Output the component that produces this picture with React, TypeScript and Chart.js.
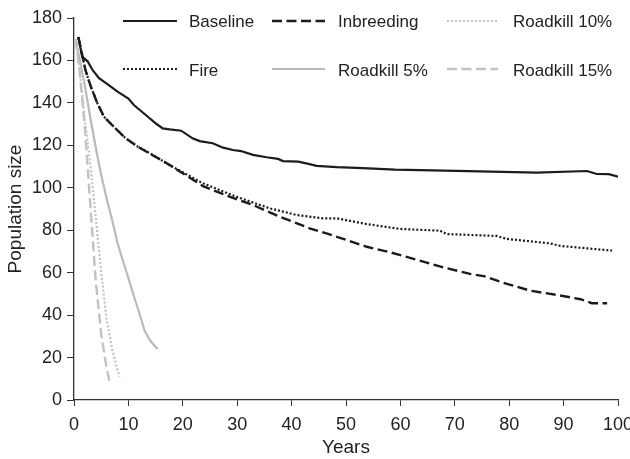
import React, { useEffect, useRef } from "react";
import { Chart, registerables } from "chart.js";

Chart.register(...registerables);

// ---- Data ----
const xTicks = [0, 10, 20, 30, 40, 50, 60, 70, 80, 90, 100];
const yTicks = [0, 20, 40, 60, 80, 100, 120, 140, 160, 180];

const baselineYears = [0.8, 1.5, 2.5, 3.4, 4.6, 6.4, 8, 10, 11, 13.2, 15, 16.3, 17.6, 19.7, 21.8, 23.1, 25.5, 27.4, 29.2, 30.7, 32.9, 35.4, 37.5, 38.4, 41.2, 42.7, 44.6, 48.3, 53.1, 59, 70.3, 85.1, 94.3, 96.1, 98.3, 100];
const baselineValues = [171, 161.8, 159.6, 155.5, 151.6, 148.4, 145.3, 142, 139, 134.3, 130.4, 128, 127.5, 126.9, 123.3, 122, 121, 118.9, 117.8, 117.3, 115.5, 114.4, 113.6, 112.6, 112.3, 111.5, 110.3, 109.7, 109.3, 108.6, 108, 107.1, 107.9, 106.5, 106.4, 105.2];

const inbreedingYears = [0.8, 2.1, 3.1, 4.3, 5.5, 7.4, 9.5, 11.7, 13.8, 16.6, 19, 23.7, 28.6, 32.9, 37.8, 43.3, 46.4, 50.1, 53.8, 58.1, 64.2, 67.9, 72.8, 75.3, 79.6, 83.9, 88.8, 93.1, 95.2, 98];
const inbreedingValues = [171, 155.5, 147.6, 139.8, 133.5, 128.5, 123.3, 119.4, 116.3, 112.3, 108.4, 100.8, 95.8, 91.9, 86.4, 80.9, 78.5, 75.4, 72.2, 69.6, 65.2, 62.5, 59.4, 58.4, 54.7, 51.5, 49.5, 47.5, 45.6, 45.6];

const fireYears = [0.8, 2.1, 3.1, 4.3, 5.5, 7.4, 9.5, 11.7, 13.8, 17.5, 23.7, 29.8, 36, 40.9, 45.8, 48.3, 53.8, 59.9, 67.3, 68.5, 77.7, 79.6, 87.5, 89.4, 98.9];
const fireValues = [171, 155.5, 147.6, 139.8, 133.5, 128.5, 123.3, 119.4, 116.5, 110.8, 102.1, 95.8, 90.3, 87.2, 85.6, 85.6, 82.9, 80.6, 79.8, 78.2, 77.3, 75.9, 73.8, 72.6, 70.4];

const roadkill5Years = [0.3, 1, 2, 3, 4, 5, 6, 7, 8, 9, 10, 11, 12, 13, 14, 15, 15.4];
const roadkill5Values = [170, 161, 148, 133, 119, 106, 95, 85, 74, 65.5, 57.5, 49, 41, 32.5, 28, 25, 24];

const roadkill10Years = [0.3, 1, 2, 3, 4, 5, 6, 7, 8, 8.4];
const roadkill10Values = [170, 157, 132, 111, 86, 60, 38, 24, 14, 11];

const roadkill15Years = [0.3, 1, 2, 3, 4, 5, 6, 6.6];
const roadkill15Values = [170, 156, 128, 92, 56, 31, 15, 8];

const seriesLabels = ["Baseline", "Inbreeding", "Roadkill 10%", "Fire", "Roadkill 5%", "Roadkill 15%"];

const toPoints = (xs: number[], ys: number[]) => xs.map((x, i) => ({ x, y: ys[i] }));

const FONT = "'Liberation Sans', Arial, Helvetica, sans-serif";
const TEXT = "#222222";
const AXIS = "#333333";

const legendPlugin = {
  id: "cornerLegend",
  afterDraw(chart: any) {
    const ctx = chart.ctx;
    const cols = [
      { lx1: 123, lx2: 177, tx: 189 },
      { lx1: 272, lx2: 325, tx: 338 },
      { lx1: 447, lx2: 498, tx: 513 },
    ];
    const rows = [{ ly: 21, ty: 27.3 }, { ly: 69, ty: 75.7 }];
    chart.data.datasets.forEach((ds: any, i: number) => {
      const col = cols[i % 3];
      const row = rows[Math.floor(i / 3)];
      ctx.save();
      ctx.strokeStyle = ds.borderColor;
      ctx.lineWidth = ds.borderWidth;
      ctx.setLineDash(ds.borderDash || []);
      ctx.beginPath();
      ctx.moveTo(col.lx1, row.ly);
      ctx.lineTo(col.lx2, row.ly);
      ctx.stroke();
      ctx.setLineDash([]);
      ctx.fillStyle = TEXT;
      ctx.font = `17px ${FONT}`;
      ctx.textBaseline = "alphabetic";
      ctx.textAlign = "left";
      ctx.fillText(ds.label, col.tx, row.ty);
      ctx.restore();
    });
  },
};

export default function App() {
  const ref = useRef<HTMLCanvasElement>(null);

  useEffect(() => {
    if (!ref.current) return;
    const black = "#1c1c1c";
    const gray = "#b9babc";
    const lightGray = "#c2c2c4";
    const chart = new Chart(ref.current, {
      type: "line",
      data: {
        datasets: [
          { label: seriesLabels[0], data: toPoints(baselineYears, baselineValues), borderColor: black, borderWidth: 2.2, borderDash: [] },
          { label: seriesLabels[1], data: toPoints(inbreedingYears, inbreedingValues), borderColor: black, borderWidth: 2.4, borderDash: [10, 4.5] },
          { label: seriesLabels[2], data: toPoints(roadkill10Years, roadkill10Values), borderColor: lightGray, borderWidth: 2.2, borderDash: [2, 2] },
          { label: seriesLabels[3], data: toPoints(fireYears, fireValues), borderColor: black, borderWidth: 2.2, borderDash: [2, 2] },
          { label: seriesLabels[4], data: toPoints(roadkill5Years, roadkill5Values), borderColor: gray, borderWidth: 2.2, borderDash: [] },
          { label: seriesLabels[5], data: toPoints(roadkill15Years, roadkill15Values), borderColor: lightGray, borderWidth: 2.4, borderDash: [10, 4.5] },
        ].map((d) => ({ ...d, pointRadius: 0, pointHoverRadius: 0, tension: 0, fill: false })) as any,
      },
      options: {
        animation: false,
        responsive: true,
        maintainAspectRatio: false,
        layout: { padding: { top: 18, right: 12, left: 0, bottom: 0 } },
        plugins: { legend: { display: false }, tooltip: { enabled: false } },
        font: { family: FONT },
        scales: {
          x: {
            type: "linear",
            min: 0,
            max: 100,
            afterBuildTicks: (s: any) => { s.ticks = xTicks.map((v) => ({ value: v })); },
            ticks: { padding: 8, color: TEXT, font: { family: FONT, size: 18 }, maxRotation: 0, autoSkip: false },
            grid: { drawOnChartArea: false, drawTicks: true, tickLength: 6, color: AXIS, lineWidth: 1 },
            border: { display: true, color: AXIS, width: 1.3 },
            title: { display: true, text: "Years", color: TEXT, font: { family: FONT, size: 19 }, padding: { top: 0, bottom: 0 } },
            afterFit: (s: any) => { s.height = 59; s.paddingLeft = 0; s.paddingRight = 0; },
          } as any,
          y: {
            type: "linear",
            min: 0,
            max: 180,
            afterBuildTicks: (s: any) => { s.ticks = yTicks.map((v) => ({ value: v })); },
            ticks: { padding: 5, color: TEXT, font: { family: FONT, size: 18 }, autoSkip: false },
            grid: { drawOnChartArea: false, drawTicks: true, tickLength: 7, color: AXIS, lineWidth: 1 },
            border: { display: true, color: AXIS, width: 1.3 },
            title: { display: true, text: "Population size", color: TEXT, font: { family: FONT, size: 19 }, padding: { top: 4, bottom: 0 } },
            afterFit: (s: any) => { s.width = 74; s.paddingTop = 0; s.paddingBottom = 0; },
          } as any,
        },
      } as any,
      plugins: [legendPlugin],
    });
    return () => chart.destroy();
  }, []);

  return (
    <div style={{ position: "fixed", left: 0, top: 0, width: 630, height: 459, background: "#fff" }}>
      <canvas ref={ref} />
    </div>
  );
}
